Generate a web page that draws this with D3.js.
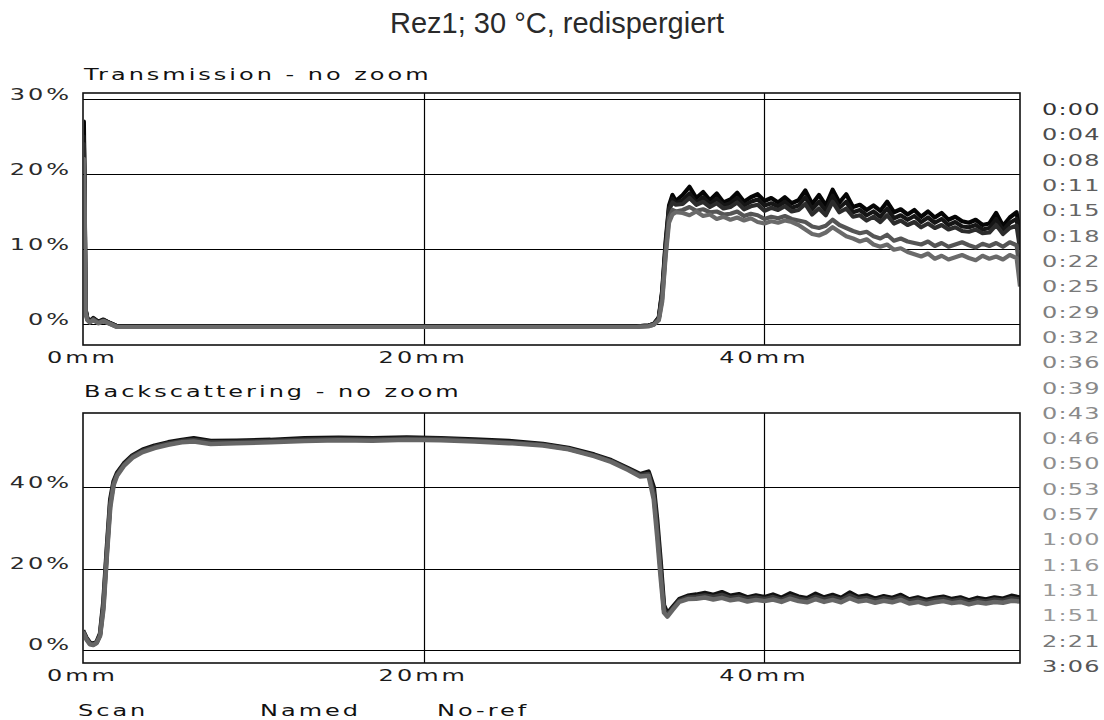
<!DOCTYPE html>
<html><head><meta charset="utf-8">
<script src="https://cdn.jsdelivr.net/npm/d3@7"></script>
<style>body{margin:0;background:#fff}svg{display:block}</style>
</head><body><svg id="c" width="1104" height="720"></svg>
<script>
// ---------- texts ----------
const chartTitle = "Rez1; 30 °C, redispergiert";
const topPanelTitle = "Transmission - no zoom";
const bottomPanelTitle = "Backscattering - no zoom";
const footerLabels = ["Scan", "Named", "No-ref"];
const scanLabels = ["0:00","0:04","0:08","0:11","0:15","0:18","0:22","0:25","0:29","0:32","0:36","0:39","0:43","0:46","0:50","0:53","0:57","1:00","1:16","1:31","1:51","2:21","3:06"];
const scanLabelColors = ["#333","#4d4d4d","#555","#5e5e5e","#666","#6e6e6e","#757575","#7a7a7a","#7e7e7e","#828282","#868686","#888","#8a8a8a","#8c8c8c","#8e8e8e","#909090","#929292","#959595","#989898","#999","#999","#777","#555"];
const xTickValues = [0, 20, 40];
const xTickLabels = ["0mm", "20mm", "40mm"];
const topYTickValues = [0, 10, 20, 30];
const topYTickLabels = ["0%", "10%", "20%", "30%"];
const botYTickValues = [0, 20, 40];
const botYTickLabels = ["0%", "20%", "40%"];

// ---------- transmission profiles (position mm -> %) ----------
const transX = [0,0.05,0.1,0.15,0.25,0.4,0.6,0.9,1.2,1.6,2.0,2.5,3,6,10,15,20,25,30,32.5,33.2,33.5,33.8,34.0,34.2,34.4,34.6,34.8,
  35.2,35.6,36.0,36.4,36.8,37.2,37.6,38.0,38.4,38.8,39.2,39.6,40.0,40.4,40.8,41.2,41.6,42.0,42.4,42.8,43.2,43.6,44.0,44.4,44.8,45.2,45.6,46.0,46.4,46.8,47.2,47.6,48.0,48.4,48.8,49.2,49.6,50.0,50.4,50.8,51.2,51.6,52.0,52.4,52.8,53.2,53.6,54.0,54.4,54.8,55.0];
const trans_0000 = [15,27,17,2,0.8,0.4,0.8,0.3,0.6,0.1,-0.3,-0.3,-0.3,-0.3,-0.3,-0.3,-0.3,-0.3,-0.3,-0.3,-0.2,0.0,0.9,4.5,11,15.8,17.2,16.4,
  17.2,18.3,16.8,17.6,16.5,17.4,16.2,16.6,17.5,16.3,16.9,17.3,16.4,16.8,16.2,16.9,16.1,16.5,17.8,16.0,17.2,15.8,17.9,16.2,17.3,15.6,15.9,15.2,15.8,15.1,16.3,14.9,15.3,14.6,15.2,14.3,15.0,14.2,14.8,13.9,14.3,13.7,13.5,13.9,13.2,13.4,14.8,13.1,14.2,14.9,12.0];
const trans_0004 = [15,25,16.5,1.9,0.8,0.4,0.7,0.3,0.5,0.1,-0.3,-0.3,-0.3,-0.3,-0.3,-0.3,-0.3,-0.3,-0.3,-0.3,-0.2,0.0,0.8,4.2,10.5,15.5,16.7,16.1,
  16.5,17.4,16.2,16.9,16.0,16.7,15.8,16.1,16.8,15.8,16.3,16.6,15.8,16.1,15.7,16.3,15.5,15.8,16.9,15.3,16.3,15.1,17.1,15.5,16.3,14.9,15.2,14.5,15.0,14.3,15.4,14.1,14.5,13.9,14.4,13.6,14.2,13.5,14.0,13.2,13.6,13.0,12.9,13.2,12.6,12.8,14.0,12.5,13.5,14.0,11.0];
const trans_0015 = [15,24,16,1.8,0.7,0.3,0.7,0.2,0.5,0.1,-0.3,-0.3,-0.3,-0.3,-0.3,-0.3,-0.3,-0.3,-0.3,-0.3,-0.2,0.0,0.8,4,10,15.2,16.2,15.9,
  16.0,16.8,15.9,16.3,15.6,16.1,15.4,15.6,16.2,15.3,15.7,15.9,15.1,15.5,15.2,15.7,15.0,15.2,16.0,14.6,15.4,14.5,16.3,14.9,15.4,14.3,14.5,13.8,14.3,13.6,14.5,13.4,13.8,13.2,13.6,12.9,13.4,12.8,13.2,12.6,12.9,12.4,12.3,12.6,12.1,12.2,13.2,12.0,12.8,13.1,10.0];
const trans_0046 = [14,22,15,1.6,0.6,0.2,0.6,0.1,0.4,0.0,-0.4,-0.4,-0.4,-0.4,-0.4,-0.4,-0.4,-0.4,-0.4,-0.4,-0.3,-0.1,0.6,3.4,9.5,14.2,15.2,15.0,
  15.2,15.6,15.1,15.3,14.9,15.0,14.6,14.7,15.0,14.4,14.7,14.5,14.0,14.3,14.1,14.4,14.0,13.8,13.6,13.0,12.8,13.1,13.9,13.2,12.8,12.4,12.1,12.3,11.7,11.4,11.9,11.1,11.4,11.0,10.8,10.6,11.0,10.4,10.8,10.3,10.6,10.9,10.5,10.2,10.7,10.4,10.8,10.3,10.9,10.5,7.0];
const trans_0306 = [14,22,15,1.5,0.5,0.2,0.5,0.1,0.4,0.0,-0.4,-0.4,-0.4,-0.4,-0.4,-0.4,-0.4,-0.4,-0.4,-0.4,-0.3,-0.1,0.5,3.0,9,13.5,14.6,14.9,
  14.8,14.5,15.0,14.4,14.6,14.0,14.3,13.9,14.2,13.8,14.1,13.6,13.4,13.7,13.5,13.8,13.6,13.2,12.6,12.0,11.8,12.2,12.9,12.3,11.7,11.4,11.0,11.3,10.6,10.3,10.6,9.9,10.1,9.6,9.3,9.0,9.4,8.7,9.1,8.6,8.9,9.2,8.8,8.5,9.1,8.7,9.0,8.6,9.2,8.8,5.0];

// ---------- backscattering profiles (position mm -> %) ----------
const backX = [0,0.2,0.4,0.6,0.8,1.0,1.2,1.4,1.6,1.8,2.0,2.4,2.9,3.5,4.2,5.0,5.8,6.5,7.5,9,11,13,15,17,19,21,23,25,27,28.5,30,31,32,32.7,33.2,33.5,33.7,33.9,34.1,34.3,34.6,35.0,35.5,
  36.0,36.5,37.0,37.5,38.0,38.5,39.0,39.5,40.0,40.5,41.0,41.5,42.0,42.5,43.0,43.5,44.0,44.5,45.0,45.5,46.0,46.5,47.0,47.5,48.0,48.5,49.0,49.5,50.0,50.5,51.0,51.5,52.0,52.5,53.0,53.5,54.0,54.5,55.0];
const back_0000 = [4.8,3.0,1.8,1.5,2.0,4.0,12,25,37,41.5,43.5,45.8,47.8,49.2,50.2,51.0,51.6,52.0,51.3,51.4,51.6,52.0,52.1,52.0,52.2,52.0,51.7,51.3,50.6,49.6,48.0,46.6,44.6,43.2,43.8,40,32,22,11,9.0,10.5,12.5,13.3,
  13.6,14.0,13.5,14.2,13.3,13.7,12.9,13.4,13.0,13.6,12.8,13.9,13.1,12.7,13.8,12.9,13.5,12.8,14.1,13.0,13.4,12.6,13.2,12.8,13.5,12.4,12.9,12.3,12.8,13.1,12.5,12.9,12.2,12.8,12.4,12.9,12.6,13.3,12.9];
const back_0022 = [4.6,2.8,1.6,1.3,1.8,3.7,11,24,36,41,43.1,45.5,47.5,48.9,49.9,50.7,51.3,51.6,51.0,51.1,51.3,51.6,51.8,51.7,51.9,51.8,51.4,51.0,50.4,49.4,47.8,46.4,44.4,42.9,43.2,38.5,30,20,10,8.6,10.1,12.1,12.9,
  13.1,13.4,13.0,13.5,12.8,13.1,12.5,12.9,12.5,13.0,12.3,13.2,12.6,12.2,13.1,12.4,12.9,12.3,13.4,12.5,12.8,12.1,12.7,12.3,12.9,12.0,12.4,11.8,12.3,12.6,12.0,12.4,11.7,12.2,11.9,12.4,12.1,12.7,12.4];
const back_0306 = [4.4,2.6,1.4,1.2,1.7,3.4,10,23,35,40.5,42.8,45.2,47.2,48.6,49.6,50.4,51.0,51.2,50.6,50.8,51.0,51.3,51.5,51.4,51.6,51.5,51.2,50.8,50.2,49.3,47.6,46.2,44.2,42.6,42.8,37,28,18,9.2,8.2,9.8,11.8,12.5,
  12.6,12.9,12.4,12.8,12.2,12.5,11.9,12.3,12.0,12.4,11.8,12.6,12.0,11.7,12.5,11.8,12.3,11.7,12.7,11.9,12.2,11.6,12.1,11.7,12.3,11.4,11.8,11.3,11.7,12.0,11.5,11.8,11.2,11.7,11.4,11.8,11.6,12.1,11.9];

// drawn in scan order (earliest first)
const transSeries = [trans_0000, trans_0004, trans_0015, trans_0046, trans_0306];
const transSeriesNames = ["0:00", "0:04", "0:15", "0:46", "3:06"];
const backSeries = [back_0000, back_0022, back_0306];
const backSeriesNames = ["0:00", "0:22", "3:06"];

// ---------- styles ----------
const transColors = ["#050505", "#151515", "#2c2c2c", "#555", "#6a6a6a"];
const backColors = ["#111", "#3a3a3a", "#666"];
const FONT = "DejaVu Sans";
const FS = 16, SX = 1.5, LS = 2;

const svg = d3.select("#c");
svg.append("rect").attr("width", 1104).attr("height", 720).attr("fill", "#fff");

function wideText(str, x, y, anchor, color, ls) {
  const l = ls === undefined ? LS : ls;
  const dx = anchor === "end" ? l * SX : (anchor === "middle" ? l * SX / 2 : 0);
  return svg.append("text")
    .attr("transform", `translate(${x + dx},${y}) scale(${SX},1)`)
    .attr("text-anchor", anchor)
    .attr("font-family", FONT).attr("font-size", FS)
    .attr("letter-spacing", l)
    .attr("fill", color || "#111")
    .text(str);
}

svg.append("text").attr("x", 557).attr("y", 33).attr("text-anchor", "middle")
  .attr("font-family", "Liberation Sans, Arial, sans-serif").attr("font-size", 29)
  .attr("fill", "#2a2a2a").text(chartTitle);

function panel(cfg) {
  const x = d3.scaleLinear().domain([0, 55]).range([83, 1020]);
  const y = d3.scaleLinear().domain(cfg.yDomain).range([cfg.bottom, cfg.top]);
  const g = svg.append("g");
  const clipId = "clip" + cfg.id;
  svg.append("clipPath").attr("id", clipId).append("rect")
    .attr("x", 84).attr("y", cfg.top + 1).attr("width", 936).attr("height", cfg.bottom - cfg.top - 2);
  // grid
  g.selectAll("line.h").data(cfg.yTicks).join("line")
    .attr("x1", x(0)).attr("x2", x(55)).attr("y1", d => Math.round(y(d)) + 0.5).attr("y2", d => Math.round(y(d)) + 0.5)
    .attr("stroke", "#000").attr("stroke-width", 1.2);
  g.selectAll("line.v").data(xTickValues.filter(d => d > 0)).join("line")
    .attr("x1", d => Math.round(x(d)) + 0.5).attr("x2", d => Math.round(x(d)) + 0.5).attr("y1", cfg.top).attr("y2", cfg.bottom)
    .attr("stroke", "#000").attr("stroke-width", 1.2);
  // lines
  const line = d3.line().x((d, i) => x(cfg.xs[i])).y(d => y(d));
  const lg = svg.append("g").attr("clip-path", `url(#${clipId})`);
  cfg.series.forEach((s, k) => {
    lg.append("path").datum(s).attr("d", line).attr("fill", "none")
      .attr("stroke", cfg.colors[k]).attr("stroke-width", cfg.lw).attr("stroke-linejoin", "round");
  });
  // frame
  svg.append("rect").attr("x", x(0)).attr("y", cfg.top).attr("width", x(55) - x(0)).attr("height", cfg.bottom - cfg.top)
    .attr("fill", "none").attr("stroke", "#111").attr("stroke-width", 1.6);
  // tick labels
  cfg.yTicks.forEach((v, i) => wideText(cfg.yLabels[i], 69, y(v) + 0.5, "end", "#2a2a2a"));
  xTickValues.forEach((v, i) => wideText(xTickLabels[i], x(v) - 2, cfg.bottom + 18, "middle", "#1a1a1a"));
  wideText(cfg.title, 84, cfg.titleY, "start", "#111");
}

panel({ id: "t", top: 93, bottom: 345, yDomain: [-2.8, 30.8], yTicks: topYTickValues, yLabels: topYTickLabels,
  xs: transX, series: transSeries, colors: transColors, title: topPanelTitle, titleY: 80, lw: 4.2 });
panel({ id: "b", top: 413, bottom: 663, yDomain: [-3.2, 58.2], yTicks: botYTickValues, yLabels: botYTickLabels,
  xs: backX, series: backSeries, colors: backColors, title: bottomPanelTitle, titleY: 397, lw: 4.5 });

// legend of scan times
const ly = d3.scalePoint().domain(scanLabels).range([115, 672]);
scanLabels.forEach((s, i) => wideText(s, 1042, ly(s), "start", scanLabelColors[i], 0.8));

// footer
const footerX = [78, 260, 437];
footerLabels.forEach((s, i) => wideText(s, footerX[i], 716, "start", "#111"));
</script></body></html>
